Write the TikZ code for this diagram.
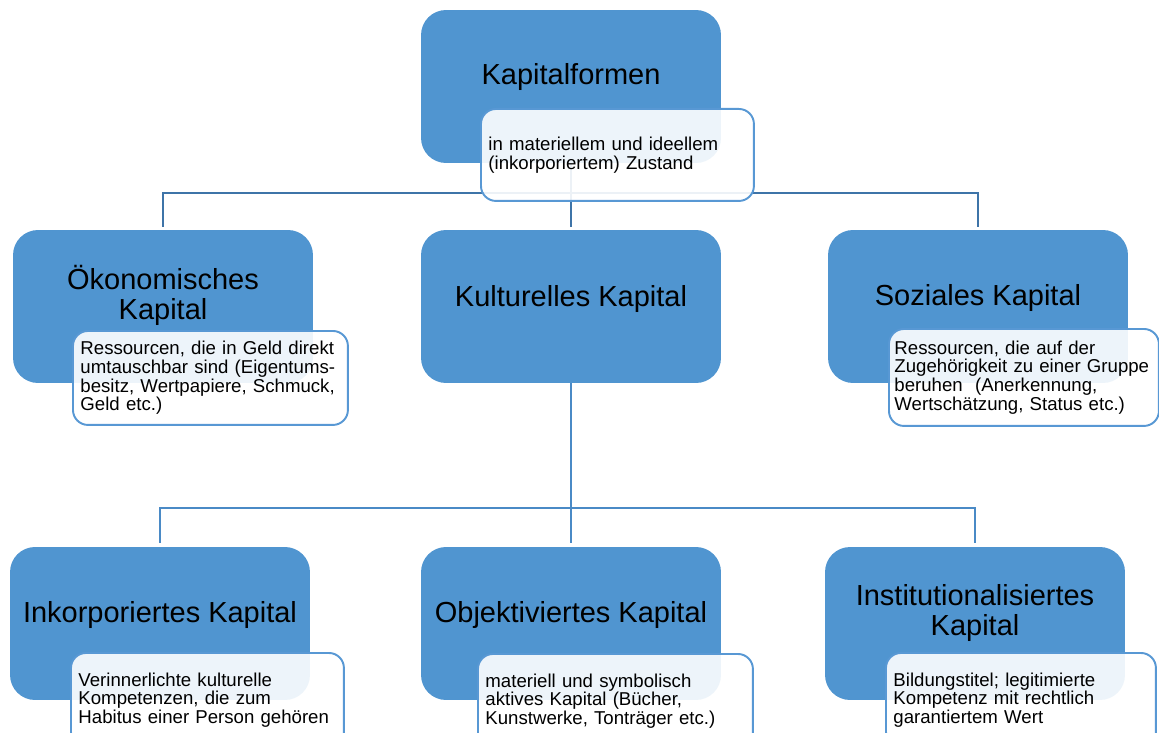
\documentclass[tikz,border=0pt]{standalone}
\usepackage{fontspec}
\setmainfont{Liberation Sans}
\definecolor{mainblue}{RGB}{80,149,208}
\definecolor{subborder}{RGB}{88,152,212}
\definecolor{conA}{RGB}{62,116,168}
\definecolor{conB}{RGB}{74,138,198}
\newcommand\mainfs{\fontsize{16.5}{17.1}\selectfont}
\newcommand\subfs{\fontsize{10.6}{10.65}\selectfont}
\begin{document}
\begin{tikzpicture}[x=0.02cm,y=-0.02cm,
  mainbox/.style={fill=mainblue,draw=none,rounded corners=0.5cm,inner sep=0pt,
    minimum width=6cm,minimum height=3.06cm},
  maintext/.style={font=\mainfs,align=center,inner sep=0pt,text=black},
  subbox/.style={draw=subborder,line width=1.1pt,fill=white,fill opacity=0.9,text opacity=1,
    rounded corners=0.3cm,align=left,font=\subfs,inner xsep=0.15cm,inner ysep=0pt,
    anchor=north west,text=black},
  lineA/.style={draw=conA,line width=1.3pt},
  lineB/.style={draw=conB,line width=1.3pt}]
\useasboundingbox (0,0) rectangle (1159,733);
\clip (0,0) rectangle (1159,733);
% main boxes
\node[mainbox] (K) at (571,86.5) {};
\node[mainbox] (Oek) at (163,306.5) {};
\node[mainbox] (Kul) at (571,306.5) {};
\node[mainbox] (Soz) at (978,306.5) {};
\node[mainbox] (Ink) at (160,623.5) {};
\node[mainbox] (Obj) at (571,623.5) {};
\node[mainbox] (Inst) at (975,623.5) {};
% connectors
\coordinate (j1) at (571,193);
\coordinate (j2) at (571,508);
\draw[lineA] (K.south) -- (j1);
\draw[lineA,shorten >=0.06cm] (j1) -| (Oek.north);
\draw[lineA,shorten >=0.06cm] (j1) -- (Kul.north);
\draw[lineA,shorten >=0.06cm] (j1) -| (Soz.north);
\draw[lineB] (Kul.south) -- (j2);
\draw[lineB,shorten >=0.08cm] (j2) -| (Ink.north);
\draw[lineB,shorten >=0.08cm] (j2) -- (Obj.north);
\draw[lineB,shorten >=0.08cm] (j2) -| (Inst.north);
% main texts
\node[maintext,anchor=base] (Kt) at (571,85) {Kapitalformen};
\node[maintext] (Oekt) at (163,295.5) {Ökonomisches\\Kapital};
\node[maintext,anchor=base] (Kult) at (571,306) {Kulturelles Kapital};
\node[maintext,anchor=base] (Sozt) at (978,305) {Soziales Kapital};
\node[maintext,anchor=base] (Inkt) at (160,622) {Inkorporiertes Kapital};
\node[maintext,anchor=base] (Objt) at (571,622) {Objektiviertes Kapital};
\node[maintext] (Instt) at (975,613) {Institutionalisiertes\\Kapital};
% sub boxes
\node[subbox,text width=5.16cm,minimum height=1.84cm] (Ks) at (480,108)
  {in materiellem und ideellem\\(inkorporiertem) Zustand};
\node[subbox,text width=5.2cm,minimum height=1.88cm] (Oeks) at (72,330)
  {Ressourcen, die in Geld direkt\\umtauschbar sind (Eigentums-\\besitz, Wertpapiere, Schmuck,\\Geld etc.)};
\node[subbox,text width=5.18cm,inner xsep=0.11cm,minimum height=1.94cm] (Sozs) at (888,328)
  {Ressourcen, die auf der\\Zugehörigkeit zu einer Gruppe\\beruhen\ \ (Anerkennung,\\Wertschätzung, Status etc.)};
\node[subbox,text width=5.16cm,minimum height=1.88cm] (Inks) at (70,652)
  {Verinnerlichte kulturelle\\Kompetenzen, die zum\\Habitus einer Person gehören};
\node[subbox,text width=5.2cm,minimum height=1.88cm] (Objs) at (477,653)
  {materiell und symbolisch\\aktives Kapital (Bücher,\\Kunstwerke, Tonträger etc.)};
\node[subbox,text width=5.1cm,minimum height=1.88cm] (Insts) at (885,652)
  {Bildungstitel; legitimierte\\Kompetenz mit rechtlich\\garantiertem Wert};
\end{tikzpicture}
\end{document}
